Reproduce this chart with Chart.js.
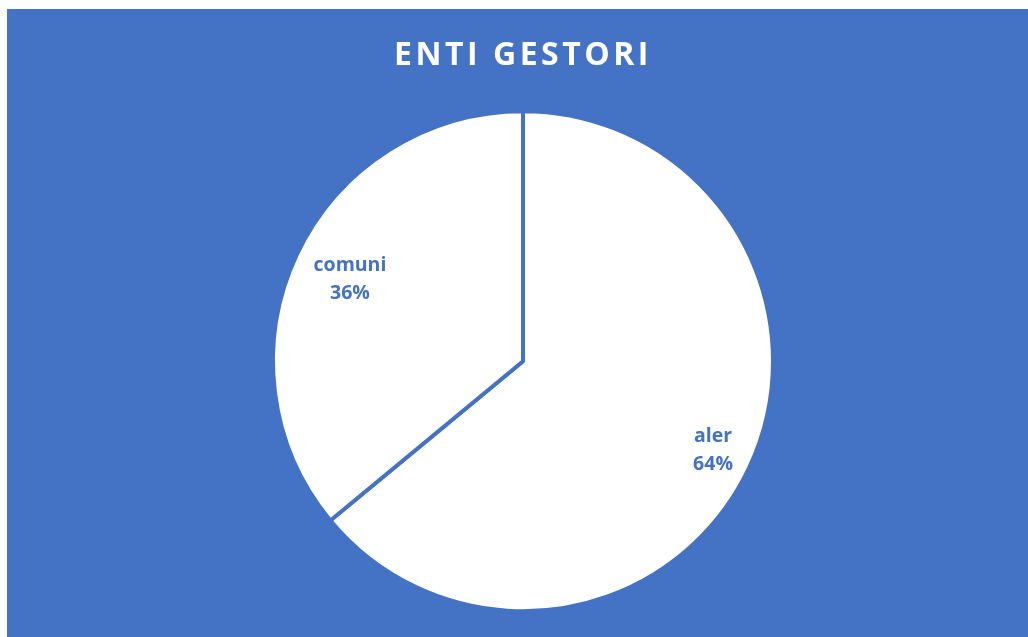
<!DOCTYPE html>
<html>
<head>
<meta charset="utf-8">
<script src="https://cdn.jsdelivr.net/npm/chart.js@4"></script>
<style>
  html, body { margin: 0; padding: 0; background: #fff; }
  #wrap { position: absolute; left: 7px; top: 9px; width: 1021px; height: 628px; background: #4472C4; }
</style>
</head>
<body>
<div id="wrap"><canvas id="chart"></canvas></div>
<script>
const categories = ["aler", "comuni"];
const percentages = [64, 36];
const titleText = "ENTI GESTORI";

const BLUE = "#4472C4";
// how far out along the radius each label sits (Excel "best fit" look)
const labelRadius = [0.84, 0.765];

const titleSpacing = {
  id: "titleSpacing",
  beforeDraw(chart) {
    chart.ctx.letterSpacing = "3.5px";
  },
  beforeDatasetsDraw(chart) {
    chart.ctx.letterSpacing = "0px";
  },
};

const sliceLabels = {
  id: "sliceLabels",
  afterDatasetsDraw(chart) {
    const ctx = chart.ctx;
    const meta = chart.getDatasetMeta(0);
    ctx.save();
    ctx.letterSpacing = "0px";
    ctx.fillStyle = BLUE;
    ctx.font = "bold 19.5px 'Open Sans'";
    ctx.textAlign = "center";
    ctx.textBaseline = "middle";
    meta.data.forEach((arc, i) => {
      const p = arc.getProps(["x", "y", "startAngle", "endAngle", "outerRadius"], true);
      const mid = (p.startAngle + p.endAngle) / 2;
      const r = p.outerRadius * labelRadius[i];
      const x = p.x + Math.cos(mid) * r;
      const y = p.y + Math.sin(mid) * r;
      ctx.fillText(categories[i], x, y - 14);
      ctx.fillText(percentages[i] + "%", x, y + 14);
    });
    ctx.restore();
  },
};

new Chart(document.getElementById("chart"), {
  type: "pie",
  data: {
    labels: categories,
    datasets: [
      {
        data: percentages,
        backgroundColor: "#ffffff",
        borderColor: BLUE,
        borderWidth: 4,
        radius: 250,
      },
    ],
  },
  options: {
    responsive: true,
    maintainAspectRatio: false,
    animation: false,
    layout: { padding: { left: 11, right: 0, top: 0, bottom: 0 } },
    plugins: {
      legend: { display: false },
      tooltip: { enabled: false },
      title: {
        display: true,
        text: titleText,
        color: "#ffffff",
        font: { family: "'Open Sans'", size: 32, weight: "bold", lineHeight: 1.2 },
        padding: { top: 28, bottom: 10 },
      },
    },
  },
  plugins: [titleSpacing, sliceLabels],
});
</script>
</body>
</html>
